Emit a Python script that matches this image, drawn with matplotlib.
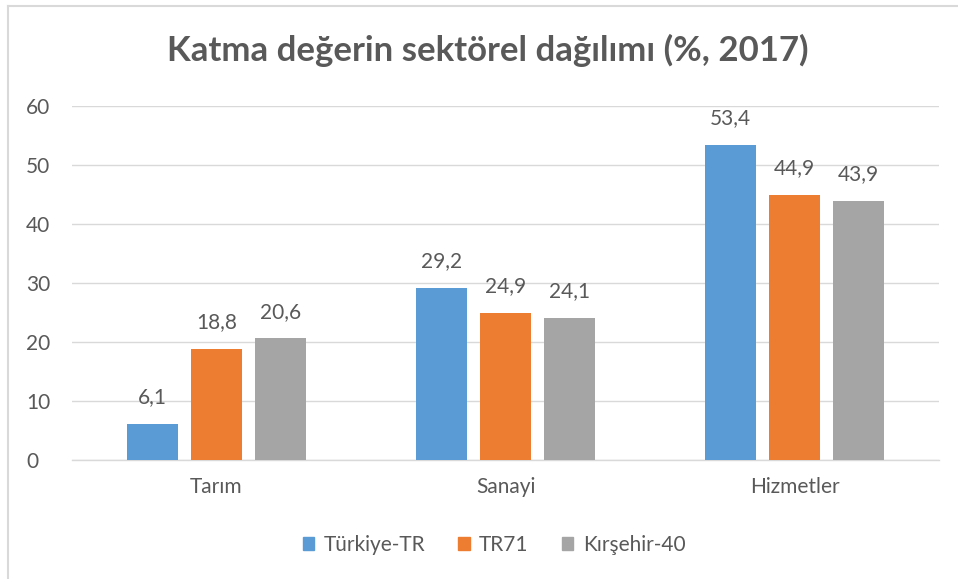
import matplotlib.pyplot as plt
from matplotlib.lines import Line2D
import numpy as np

categories = ["Tarım", "Sanayi", "Hizmetler"]
series_names = ["Türkiye-TR", "TR71", "Kırşehir-40"]
turkiye = [6.1, 29.2, 53.4]
tr71 = [18.8, 24.9, 44.9]
kirsehir = [20.6, 24.1, 43.9]
colors = ["#5B9BD5", "#ED7D31", "#A5A5A5"]

plt.rcParams["font.family"] = ["Lato", "DejaVu Sans"]
text_color = "#595959"

fig = plt.figure(figsize=(9.58, 5.79), dpi=100)
ax = fig.add_axes([72 / 958, 1 - 460 / 579, 867 / 958, 354 / 579])

x = np.arange(len(categories))
step = 0.221
width = 0.176
for i, (vals, name) in enumerate(zip([turkiye, tr71, kirsehir], series_names)):
    pos = x + (i - 1) * step
    bars = ax.bar(pos, vals, width, color=colors[i], label=name, zorder=3)
    for b, v in zip(bars, vals):
        ax.annotate(f"{v:.1f}".replace(".", ","), (b.get_x() + b.get_width() / 2, v),
                    xytext=(0, 12), textcoords="offset points", ha="center", va="bottom",
                    fontsize=15, color=text_color)

ax.set_xlim(-0.5, 2.5)
ax.set_ylim(0, 60)
ax.set_yticks(range(0, 61, 10))
ax.yaxis.grid(True, color="#D9D9D9", linewidth=1, zorder=0)
for s in ["top", "right", "left"]:
    ax.spines[s].set_visible(False)
ax.spines["bottom"].set_color("#D9D9D9")
ax.spines["bottom"].set_linewidth(1)
ax.set_xticks(x)
ax.set_xticklabels(categories)
ax.tick_params(axis="both", length=0, labelsize=15, colors=text_color)
ax.tick_params(axis="x", pad=12)
ax.tick_params(axis="y", pad=33)
for lbl in ax.get_yticklabels():
    lbl.set_horizontalalignment("left")

fig.text(488 / 958, 1 - 50 / 579, "Katma değerin sektörel dağılımı (%, 2017)",
         ha="center", va="center", fontsize=25, fontweight="bold", color=text_color)

handles = [plt.Rectangle((0, 0), 1, 1, color=c) for c in colors]
fig.legend(handles, series_names, loc="center", bbox_to_anchor=(494 / 958, 1 - 545 / 579),
           ncol=3, frameon=False, fontsize=15, handlelength=0.55, handleheight=0.55,
           columnspacing=1.6, handletextpad=0.45, labelcolor=text_color)

# partial chart frame
fig.add_artist(Line2D([8 / 958, 8 / 958], [0, 1 - 6 / 579], transform=fig.transFigure,
                      color="#D9D9D9", linewidth=1.5))
fig.add_artist(Line2D([8 / 958, 1], [1 - 6 / 579, 1 - 6 / 579], transform=fig.transFigure,
                      color="#D9D9D9", linewidth=1.5))

fig.savefig("out.png", dpi=100)
